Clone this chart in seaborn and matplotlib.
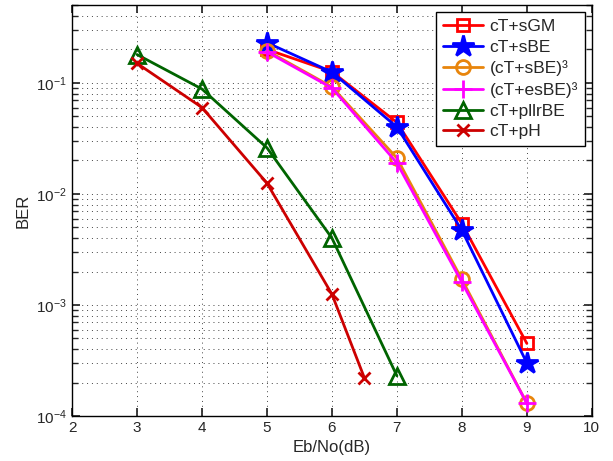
import numpy as np
import pandas as pd
import matplotlib
matplotlib.use("Agg")
import matplotlib.pyplot as plt
import seaborn as sns

x_main = [5, 6, 7, 8, 9]
sgm = [0.20, 0.126, 0.044, 0.0054, 0.00045]
sbe = [0.23, 0.125, 0.040, 0.0047, 0.00030]
sbe3 = [0.195, 0.092, 0.021, 0.0017, 0.00013]
esbe3 = [0.19, 0.090, 0.019, 0.0016, 0.00013]
x_pllr = [3, 4, 5, 6, 7]
pllrbe = [0.18, 0.088, 0.026, 0.0040, 0.00023]
x_ph = [3, 4, 5, 6, 6.5]
ph = [0.15, 0.060, 0.0125, 0.00125, 0.00022]

sns.set_theme(style='ticks', rc={'axes.facecolor': 'white', 'figure.facecolor': 'white'})
plt.rcParams['font.family'] = ['Liberation Sans', 'DejaVu Sans']
plt.rcParams['mathtext.fontset'] = 'custom'
plt.rcParams['mathtext.rm'] = 'Liberation Sans'

fig = plt.figure(figsize=(6.13, 4.61), dpi=100)
ax = fig.add_axes([0.1175, 0.0976, 0.848, 0.891])

series = [
    (x_main, sgm, 'cT+sGM', '#ff0000', 's', 9, 'none'),
    (x_main, sbe, 'cT+sBE', '#0000ff', '*', 16, '#0000ff'),
    (x_main, sbe3, '(cT+sBE)³', '#e8850c', 'o', 10, 'none'),
    (x_main, esbe3, '(cT+esBE)³', '#ff00ff', '+', 13, 'none'),
    (x_pllr, pllrbe, 'cT+pllrBE', '#006400', '^', 11, 'none'),
    (x_ph, ph, 'cT+pH', '#cc0000', 'x', 8, 'none'),
]

for xs, ys, lab, col, mk, ms, fc in series:
    df = pd.DataFrame({'x': xs, 'y': ys})
    sns.lineplot(data=df, x='x', y='y', ax=ax, label=lab, color=col, linewidth=2,
                 marker=mk, markersize=ms, markerfacecolor=fc, markeredgecolor=col,
                 markeredgewidth=2)

ax.set_yscale('log')
ax.set_xlim(2, 10)
ax.set_ylim(1e-4, 0.5)
ax.set_xticks(range(2, 11))
ax.grid(True, which='major', linestyle=(0, (1, 4)), color='#444444', linewidth=0.7)
ax.grid(True, which='minor', axis='y', linestyle=(0, (1, 4)), color='#444444', linewidth=0.7)
ax.tick_params(which='both', direction='in', top=True, right=True, labelsize=11)
for s in ax.spines.values():
    s.set_linewidth(1.0)
    s.set_color('black')

ax.set_xlabel('Eb/No(dB)', fontsize=12)
ax.set_ylabel('BER', fontsize=12)

leg = ax.legend(loc='upper right', fontsize=12.5, fancybox=False, framealpha=1,
                edgecolor='black', handlelength=2.3, borderpad=0.4,
                labelspacing=0.32, handletextpad=0.4, borderaxespad=0.4)
leg.get_frame().set_linewidth(1.0)

plt.savefig('out.png', dpi=100)
